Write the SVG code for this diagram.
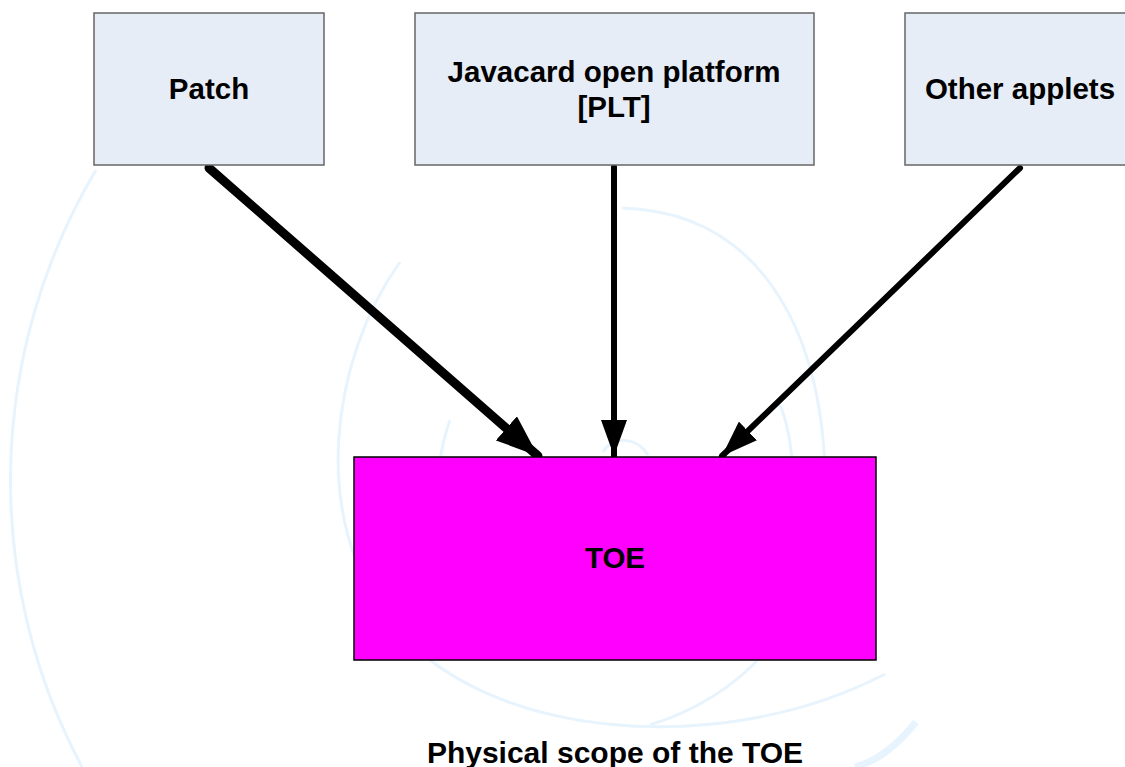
<svg xmlns="http://www.w3.org/2000/svg" width="1125" height="767" viewBox="0 0 1125 767">
<style>
.wm{fill:none;stroke:#e8f4fd;stroke-width:3}
.box{fill:#e6edf7;stroke:#666;stroke-width:1.5}
.lbl{font-family:"Liberation Sans",Arial,sans-serif;font-weight:bold;font-size:29.5px;fill:#000;text-anchor:middle}
.con{stroke:#000;stroke-linecap:round;fill:none}
</style>
<defs>
<marker id="ah" markerUnits="userSpaceOnUse" viewBox="0 0 36 26" refX="36" refY="13" markerWidth="36" markerHeight="26" orient="auto">
<path d="M0,0 L36,13 L0,26 Z" fill="#000"/>
</marker>
<marker id="ahb" markerUnits="userSpaceOnUse" viewBox="0 0 42 32" refX="42" refY="16" markerWidth="42" markerHeight="32" orient="auto">
<path d="M0,0 L42,16 L0,32 Z" fill="#000"/>
</marker>
</defs>
<rect width="1125" height="767" fill="#fff"/>
<g id="watermark">
<path class="wm" d="M96,170 A608,608 0 0 0 82,767"/>
<path class="wm" d="M400,262 C330,360 310,520 390,620 C480,740 720,760 885,674"/>
<path class="wm" d="M622,208 C760,212 820,330 825,470 C828,600 760,690 650,725"/>
<path class="wm" d="M450,420 C432,470 436,530 445,560"/>
<path class="wm" d="M780,405 C795,440 795,500 790,525"/>
<path class="wm" d="M603,452 C612,436 636,436 648,455"/>
<path class="wm" d="M916,722 C895,748 875,762 855,767" style="stroke-width:7"/>
</g>
<g id="connectors">
<line class="con" x1="209" y1="168" x2="538" y2="456" stroke-width="9" marker-end="url(#ahb)"/>
<line class="con" x1="614" y1="167" x2="614" y2="456" stroke-width="6" marker-end="url(#ah)"/>
<line class="con" x1="1020" y1="168" x2="722" y2="456" stroke-width="6" marker-end="url(#ah)"/>
</g>
<g id="patch">
<rect class="box" x="94" y="13" width="230" height="152"/>
<text class="lbl" x="209" y="99">Patch</text>
</g>
<g id="plt">
<rect class="box" x="415" y="13" width="399" height="152"/>
<text class="lbl" x="614" y="82">Javacard open platform</text>
<text class="lbl" x="614" y="117">[PLT]</text>
</g>
<g id="other">
<rect class="box" x="905" y="13" width="230" height="152"/>
<text class="lbl" x="1020" y="99">Other applets</text>
</g>
<g id="toe">
<rect x="354" y="457" width="522" height="203" fill="#ff00ff" stroke="#000" stroke-width="1.5"/>
<text class="lbl" x="615" y="568">TOE</text>
</g>
<g id="caption">
<text class="lbl" x="615" y="763" style="font-size:30px">Physical scope of the TOE</text>
</g>
</svg>
